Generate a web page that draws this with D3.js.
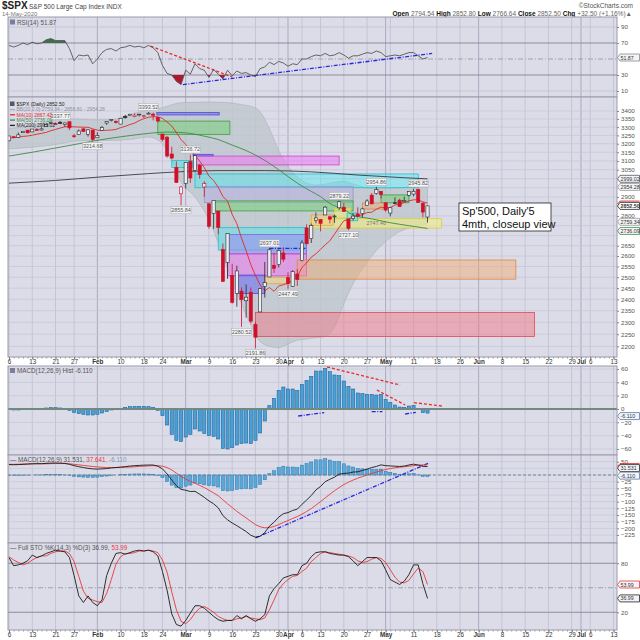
<!DOCTYPE html>
<html>
<head>
<meta charset="utf-8">
<script src="https://cdn.jsdelivr.net/npm/d3@7/dist/d3.min.js"></script>
<style>
  body { margin: 0; background: #fff; }
  svg { display: block; font-family: "Liberation Sans", Arial, sans-serif; }
</style>
</head>
<body>
<svg id="chart" width="640" height="640"></svg>
<script>
// $SPX daily, 6 Jan - 14 May 2020. index 0 = 6 Jan, one step per trading day
var openP = [3217.55,3241.86,3238.59,3266.03,3281.81,3271.13,3285.35,3282.27,3302.97,3323.66,
  3321.03,3330.02,3315.77,3333.10,3247.16,3255.35,3289.46,3256.45,3282.33,3235.66,
  3280.61,3324.91,3344.92,3335.54,3318.28,3365.87,3370.50,3365.90,3378.08,3369.04,
  3380.39,3380.45,3360.50,3257.61,3238.94,3139.90,3062.54,2916.90,2974.28,3096.46,
  3045.75,3075.70,2954.20,2863.89,2813.48,2825.60,2630.86,2569.99,2508.59,2425.66,
  2436.50,2393.48,2431.94,2290.71,2344.44,2457.77,2501.29,2555.87,2558.98,2614.69,
  2498.08,2458.54,2514.92,2578.28,2738.65,2685.00,2776.99,2782.46,2805.10,2795.64,
  2799.34,2842.43,2845.62,2784.81,2787.89,2810.42,2812.64,2854.65,2909.96,2918.46,
  2930.91,2869.09,2815.01,2868.88,2883.14,2878.26,2908.83,2915.46,2939.50,2865.86,2794.54];
var highP = [3246.84,3244.91,3267.07,3275.58,3282.99,3288.13,3294.25,3298.66,3317.11,3329.88,
  3329.79,3337.77,3326.88,3333.18,3258.85,3285.78,3293.47,3285.91,3282.33,3268.44,
  3306.92,3337.58,3347.96,3341.42,3352.26,3375.63,3381.47,3385.09,3380.69,3375.01,
  3393.52,3389.15,3360.76,3259.81,3246.99,3182.51,3097.07,2959.72,3090.96,3136.72,
  3130.97,3083.04,2985.93,2863.89,2882.59,2825.60,2660.95,2711.33,2562.98,2553.93,
  2453.57,2466.97,2453.01,2300.73,2449.71,2571.42,2637.01,2615.91,2631.80,2641.39,
  2522.75,2533.22,2538.18,2676.85,2756.89,2760.75,2818.57,2782.46,2851.85,2801.88,
  2806.51,2879.22,2868.98,2785.54,2815.10,2844.90,2842.71,2887.72,2921.15,2954.86,
  2930.91,2869.09,2844.24,2898.23,2891.11,2901.92,2932.16,2944.25,2945.82,2874.14,2852.80];
var lowP = [3214.64,3232.43,3236.67,3263.67,3260.86,3268.43,3277.19,3280.69,3302.82,3318.86,
  3316.61,3320.04,3301.87,3281.53,3234.50,3253.22,3271.89,3242.80,3214.68,3235.66,
  3280.61,3313.75,3334.39,3322.12,3317.77,3352.72,3369.72,3360.52,3366.15,3355.61,
  3378.83,3341.02,3328.45,3214.65,3118.77,3108.99,2977.39,2855.84,2945.19,2976.63,
  3034.38,2999.83,2901.54,2734.43,2734.00,2707.22,2478.86,2492.37,2380.94,2367.04,
  2280.52,2319.78,2295.56,2191.86,2344.44,2407.53,2500.72,2520.02,2545.28,2571.15,
  2447.49,2455.79,2459.96,2574.57,2657.67,2663.30,2762.36,2721.17,2805.10,2761.54,
  2764.32,2830.88,2820.43,2727.10,2775.95,2794.26,2791.76,2852.89,2860.71,2912.16,
  2892.47,2821.61,2797.85,2863.55,2847.65,2876.48,2902.88,2903.44,2869.59,2793.15,2766.64];
var closeP = [3246.28,3237.18,3253.05,3274.70,3265.35,3288.13,3283.15,3289.29,3316.81,3329.62,
  3320.79,3321.75,3325.54,3295.47,3243.63,3276.24,3273.40,3283.66,3225.52,3248.92,
  3297.59,3334.69,3345.78,3327.71,3352.09,3357.75,3379.45,3373.94,3380.16,3370.29,
  3386.15,3373.23,3337.75,3225.89,3128.21,3116.39,2978.76,2954.22,3090.23,3003.37,
  3130.12,3023.94,2972.37,2746.56,2882.23,2741.38,2480.64,2711.02,2386.13,2529.19,
  2398.10,2409.39,2304.92,2237.40,2447.33,2475.56,2630.07,2541.47,2626.65,2584.59,
  2470.50,2526.90,2488.65,2663.68,2659.41,2749.98,2789.82,2761.63,2846.06,2783.36,
  2799.55,2874.56,2823.16,2736.56,2799.31,2797.80,2836.74,2878.48,2863.39,2939.51,
  2912.43,2830.71,2842.74,2868.44,2848.42,2881.19,2929.80,2930.19,2870.12,2820.00,2852.50];
var prevClose = 3234.85;

var ma10 = [3234,3236,3239,3244,3246,3251,3257,3262,3268,3278.3,
  3285.8,3294.3,3301.6,3303.6,3301.5,3300.3,3299.3,3298.8,3289.7,3281.6,
  3279.3,3280.6,3282.6,3285.9,3296.7,3304.9,3315.5,3324.5,3339.9,3352.0,
  3360.8,3364.6,3363.8,3353.6,3331.2,3307.0,3267.0,3225.0,3196.0,3159.3,
  3133.7,3098.8,3062.2,3014.3,2989.7,2952.2,2902.4,2878.1,2807.7,2760.3,
  2687.1,2625.6,2558.9,2507.9,2464.4,2437.9,2452.8,2435.8,2459.9,2465.5,
  2472.8,2484.6,2503.0,2545.7,2566.9,2594.3,2610.3,2632.4,2654.3,2674.1,
  2707.0,2741.8,2775.2,2782.5,2796.5,2801.3,2806.0,2817.6,2819.3,2835.0,
  2846.2,2841.8,2843.8,2856.9,2861.8,2870.1,2879.4,2884.6,2885.3,2873.3,2867.42];
var ma50Days = [0,5,10,15,20,25,30,34,38,42,45,48,51,55,58,62,65,67,69,72,74,78,82,86,90];
var ma50Vals = [3128,3150,3175,3200,3225,3245,3262,3270,3265,3245,3225,3192,3160,3103,3050,2975,2930,2902,2865,2835,2805,2785,2765,2750,2736.09];
var ma200Days = [0,10,20,30,38,45,55,65,75,85,90];
var ma200Vals = [2975,2990,3010,3028,3040,3045,3045,3038,3020,3005,2999.02];
var bbDays = [0,5,10,14,18,22,26,30,33,35,37,40,43,46,48,50,52,54,56,58,60,62,64,66,68,70,72,74,76,78,80,82,84,87,90];
var bbUpper = [3290,3310,3345,3350,3345,3345,3380,3405,3420,3440,3452,3455,3457,3455,3450,3440,3430,3395,3290,3160,
  3070,3010,2975,2965,2970,2980,2985,2970,2955,2945,2945,2945,2950,2955,2954.28];
var bbLower = [3170,3180,3195,3215,3220,3220,3225,3240,3200,3100,2980,2900,2780,2600,2480,2380,2290,2220,2200,2195,
  2210,2225,2230,2235,2240,2280,2380,2470,2540,2600,2650,2690,2720,2745,2759.34];

var rsi = [67,65,67,70,68,71,69,70,74,75.5, 73,73,73,63,48,55,54,55,44,50,
  58,62,63,60,64,65,67,65,66,64, 67,64,58,42,32,30,22,18,36,31,
  44,38,36,27,37,31,25,36,29,35, 32,33,30,28,38,40,46,43,47,45,
  41,44,43,50,50,53,55,54,57,54, 55,58,55,51,54,54,56,58,57,60,
  58,53,54,55,54,56,58,58,54,50,51.87];
var macdHist = [-1,-1.5,-1.5,-1,-0.5,0,0.5,0.5,1.5,2, 2,1.5,0.5,-2,-5,-7,-8,-9,-9,-8,
  -6,-4,-1.5,0,1,2.5,3.5,4,4,4, 3.5,2.5,-2,-10,-24,-38,-47,-49,-42,-38,
  -30,-33,-37,-40,-41,-45,-59,-60,-58,-54, -52,-51,-52,-47,-36,-18,5,16,28,33,
  30,30,28,37,43,49,57,57,61,56, 51,50,42,34,30,24,23,22,22,21,
  22,14,10,6,3,2.5,4.5,5.5,0.5,-5.5,-6.11];
var macdSignal = [40,40,40.5,41,41.5,42,42,42,42,42.5, 43,43,43,42,40,38,36,34,32,30,
  29,28,28,28,28.5,29,30,31,32,33, 34,35,35,33,28,19,7,-5,-15,-24,
  -31,-39,-47,-57,-67,-78,-93,-108,-122,-136, -149,-161,-174,-186,-194,-198,-197,-193,-186,-178,
  -171,-163,-156,-147,-137,-126,-113,-100,-86,-72, -59,-47,-36,-27,-19,-12,-6,0,6,11,
  16,21,24,27,29,31,33,35,37,38,37.64];
var macdLine = [39,38.5,39,40,41,42,42.5,42.5,43.5,44.5, 45,44.5,43.5,40,35,31,28,25,23,22,
  23,24,26.5,28,29.5,31.5,33.5,35,36,37, 37.5,37.5,33,23,4,-19,-40,-54,-57,-62,
  -61,-72,-84,-97,-108,-123,-152,-168,-180,-190, -201,-212,-226,-233,-230,-216,-192,-177,-158,-145,
  -141,-133,-128,-110,-94,-77,-56,-43,-25,-16, -8,3,6,7,11,12,17,22,28,32,
  38,35,34,33,32,33.5,37.5,40.5,37.5,32.5,31.53];
var stoK = [87,77,78,80,83,90,87,89,92,94, 96,95,94,87,65,40,32,40,32,28,
  35,65,80,92,93,91,93,95,96,95, 96,94,89,70,47,18,5,3,10,19,
  28,28,25,20,15,11,9,10,10,16, 12,16,12,9,12,17,40,49,55,62,
  64,66,66,77,80,88,93,94,94,92, 91,90,90,88,83,77,82,87,87,87,
  83,72,60,57,54,58,66,78,78,55,36.99];
var stoD = [88,84,81,78,80,84,87,89,89,92, 94,95,95,92,82,64,46,37,35,33,
  32,43,60,79,88,92,92,93,95,95, 96,95,93,84,69,45,23,9,6,11,
  19,25,27,24,20,15,12,10,10,12, 13,15,13,12,11,13,23,35,48,55,
  60,64,65,70,74,82,87,92,94,93, 92,91,90,89,87,83,81,82,85,87,
  86,81,72,63,57,56,59,67,74,70,53.99];

// date axis
var axisDays = [0,5,10,14,19,24,29,33,38,43,48,53,58,60,63,67,72,77,81,87,92,97,101,106,111,116,121,123,125,130];
var axisLabels = ["6","13","21","27","Feb","10","18","24","Mar","9","16","23","30","Apr","6","13","20","27","May","11","18","26","Jun","8","15","22","29","Jul","6","13"];
var extraGridDays = [82];

// value axes
var rsiTicks = [90,70,30,10];
var priceTicks = [3400,3350,3300,3250,3200,3150,3100,3050,3000,2950,2900,2850,2800,2750,2700,2650,2600,2550,2500,2450,2400,2350,2300,2250,2200];
var priceTicksHidden = [3000,2950,2850,2750,2700];
var histTicks = [60,40,20,0,-20,-40,-60];
var macdTicks = [50,25,0,-25,-50,-75,-100,-125,-150,-175,-200,-225];
var macdTicksHidden = [25,0];
var stoTicks = [80,20];

// drawn zones on price panel
var zoneFrom = [31.8,32,39.6,40,35,40,42,44,45,47,47,49,55,62,53,64.7,80,76,70,72.7,65];
var zoneTo   = [45.2,47.5,43.9,71,39.4,88,74,74,64,64,64,55,60.4,109,113,93,86,81,73.5,75,69.7];
var zoneLow  = [3375,3256,3128,3077,3063,2950,2870,2826,2629,2610,2506,2426,2470,2491,2240,2738,2869,2836,2790,2775,2752];
var zoneHigh = [3390,3337,3138,3128,3102,3026,2956,2879,2740,2705,2610,2510,2500,2581,2342,2786,2911,2868,2840,2815,2805];
var zoneKind = ["blue","green","blue","magenta","cyan","cyan","lavender","green","cyan","violet","magenta","blue","khaki","orange","red","yellow","green","orange","yellow","cyan","khaki"];

// high / low price notes
var noteDays = [30,11,18,39,37,79,88,71,73,56,60,50,53];
var noteVals = [3393.52,3337.77,3214.68,3136.72,2855.84,2954.86,2945.82,2879.22,2727.10,2637.01,2447.49,2280.52,2191.86];

// trend lines: panel, day1, value1, day2, value2, colour kind
var trendPanel = ["rsi","rsi","hist","hist","hist","hist","hist","hist","macd","price"];
var trendD1 = [30.5,37.4,68.4,79.1,87.1,62.2,78,85.2,53,56];
var trendV1 = [66,18,63,28.5,9.5,-10.5,-4,-7.5,-236,2637];
var trendD2 = [48,91,84.1,85.2,93.1,67.8,80.3,87.5,90.3,64];
var trendV2 = [27.5,57,36,6,4.5,-5.5,-4,-5,45,2637];
var trendKind = ["red","blue","red","red","red","blue","blue","blue","blue","blue"];

// ---------------------------------------------------------------
var svg = d3.select("#chart");
var defs = svg.append("defs");
var L = 8, R = 617;
var BG = "#dcdce9";

var x = d3.scaleLinear().domain([0, 130]).range([9, 613.5]);
var yR = d3.scaleLinear().domain([2.5, 102.5]).range([97, 17]);
var yP = d3.scaleLog().domain([2157, 3489]).range([357, 97]);
var yH = d3.scaleLinear().domain([-69, 64.5]).range([455, 366]);
var yM = d3.scaleLinear().domain([-255, 75]).range([543, 455]);
var yS = d3.scaleLinear().domain([-1.7, 104.8]).range([630, 543]);

var monthDays = axisDays.filter(function (d, i) { return isNaN(+axisLabels[i]); });
var gridDays = axisDays.concat(extraGridDays);

var zoneStyle = {
  blue:     { fill: "#6a6af0", op: 0.55, stroke: "#4b4bd6" },
  green:    { fill: "#6fd06f", op: 0.5,  stroke: "#3aa03a" },
  magenta:  { fill: "#ee7af0", op: 0.55, stroke: "#d040d8" },
  cyan:     { fill: "#4ee6ee", op: 0.45, stroke: "#20c0d0" },
  lavender: { fill: "#b6aee6", op: 0.45, stroke: "#9a90d0" },
  violet:   { fill: "#9a8cf2", op: 0.55, stroke: "#7a6ae0" },
  khaki:    { fill: "#f2cf8a", op: 0.65, stroke: "#d8a850" },
  orange:   { fill: "#f2a86a", op: 0.45, stroke: "#e08840" },
  red:      { fill: "#f07a86", op: 0.5,  stroke: "#e04a5a" },
  yellow:   { fill: "#f4f07a", op: 0.55, stroke: "#d8d040" }
};
var trendStyle = {
  red:  { stroke: "#e62a2a", dash: "3,2" },
  blue: { stroke: "#2727e0", dash: "4,1.5,1,1.5" }
};

function makePanel(id, top, bottom) {
  svg.append("rect").attr("x", L).attr("y", top).attr("width", R - L).attr("height", bottom - top).attr("fill", BG);
  defs.append("clipPath").attr("id", id).append("rect")
    .attr("x", L).attr("y", top).attr("width", R - L).attr("height", bottom - top);
  var g = svg.append("g").attr("clip-path", "url(#" + id + ")");
  g.selectAll(".vg").data(gridDays).enter().append("line")
    .attr("x1", function (d) { return x(d); }).attr("x2", function (d) { return x(d); })
    .attr("y1", top).attr("y2", bottom)
    .attr("stroke", function (d) { return monthDays.indexOf(d) >= 0 ? "#a9a9be" : "#c4c4d6"; })
    .attr("stroke-width", 1);
  return g;
}

function hLines(g, y, vals, color, width, dash) {
  g.selectAll(null).data(vals).enter().append("line")
    .attr("x1", L).attr("x2", R)
    .attr("y1", function (d) { return y(d); }).attr("y2", function (d) { return y(d); })
    .attr("stroke", color).attr("stroke-width", width)
    .attr("stroke-dasharray", dash || null);
}

function frame(top, bottom) {
  svg.append("rect").attr("x", L).attr("y", top).attr("width", R - L).attr("height", bottom - top)
    .attr("fill", "none").attr("stroke", "#9a9aac").attr("stroke-width", 1);
}

function rightAxis(y, vals) {
  var ax = svg.append("g").attr("transform", "translate(" + R + ",0)")
    .call(d3.axisRight(y).tickValues(vals).tickSize(2).tickPadding(2).tickFormat(d3.format("d")));
  ax.select(".domain").remove();
  ax.attr("font-size", 6.2).attr("font-family", null);
  ax.selectAll("text").attr("fill", "#555");
  ax.selectAll("line").attr("stroke", "#888");
}

// value tag on the right axis
function valueBox(yv, label, color, fill, bold) {
  var g = svg.append("g");
  g.append("path").attr("d", "M" + (R + 0.5) + "," + yv + "l2.5,-3.5h19.5v7h-19.5z")
    .attr("fill", fill || "#f3f3f8").attr("stroke", color).attr("stroke-width", 0.8);
  g.append("text").attr("x", R + 3.5).attr("y", yv + 2).attr("font-size", 5.3)
    .attr("font-weight", bold ? "bold" : null).attr("fill", "#333").text(label);
}

function drawTrends(panelName, g, y) {
  var ids = d3.range(trendPanel.length).filter(function (k) { return trendPanel[k] === panelName; });
  g.selectAll(null).data(ids).enter().append("line")
    .attr("x1", function (k) { return x(trendD1[k]); }).attr("y1", function (k) { return y(trendV1[k]); })
    .attr("x2", function (k) { return x(trendD2[k]); }).attr("y2", function (k) { return y(trendV2[k]); })
    .attr("stroke", function (k) { return trendStyle[trendKind[k]].stroke; })
    .attr("stroke-dasharray", function (k) { return trendStyle[trendKind[k]].dash; })
    .attr("stroke-width", 1.3);
}

function dateAxis(y0) {
  svg.append("g").attr("transform", "translate(0," + y0 + ")")
    .call(d3.axisBottom(x).tickValues(d3.range(0, 131)).tickSize(1.5).tickFormat(""))
    .call(function (a) { a.select(".domain").remove(); a.selectAll("line").attr("stroke", "#999"); });
  var ax = svg.append("g").attr("transform", "translate(0," + y0 + ")")
    .call(d3.axisBottom(x).tickValues(axisDays).tickSize(2.5).tickPadding(0.5)
      .tickFormat(function (d, i) { return axisLabels[i]; }));
  ax.select(".domain").remove();
  ax.attr("font-size", 6.3).attr("font-family", null);
  ax.selectAll("text").attr("fill", "#333")
    .attr("font-weight", function (d, i) { return isNaN(+axisLabels[i]) ? "bold" : null; });
  ax.selectAll("line").attr("stroke", "#777");
}

var idx = d3.range(closeP.length);
function lineOf(y, arr) {
  return d3.line().x(function (d, i) { return x(i); }).y(function (d) { return y(d); })(arr);
}

// ---------------- header ----------------
svg.append("text").attr("x", 2).attr("y", 9).attr("font-size", 10).attr("font-weight", "bold").attr("fill", "#222").text("$SPX");
svg.append("text").attr("x", 29).attr("y", 8.5).attr("font-size", 6.5).attr("fill", "#444").text("S&P 500 Large Cap Index  INDX");
svg.append("text").attr("x", 2).attr("y", 15.5).attr("font-size", 6).attr("fill", "#777").text("14-May-2020");
svg.append("text").attr("x", 633).attr("y", 8).attr("text-anchor", "end").attr("font-size", 6.5).attr("fill", "#555").text("\u00A9StockCharts.com");
var hdr = svg.append("text").attr("x", 632).attr("y", 15.5).attr("text-anchor", "end").attr("font-size", 6.5).attr("fill", "#444");
[["Open", 1], [" 2794.54 ", 0], ["High", 1], [" 2852.80 ", 0], ["Low", 1], [" 2766.64 ", 0],
 ["Close", 1], [" 2852.50 ", 0], ["Chg", 1], [" +32.50 (+1.16%)\u25B2", 0]].forEach(function (p) {
  hdr.append("tspan").attr("font-weight", p[1] ? "bold" : null).attr("fill", p[1] ? "#111" : "#666").text(p[0]);
});

// ---------------- RSI ----------------
var gR = makePanel("cRsi", 17, 97);
hLines(gR, yR, [90, 10], "#c4c4d6", 1);
hLines(gR, yR, [70, 30], "#8c8c9e", 1.2);
hLines(gR, yR, [50], "#9090a0", 0.8, "5,2,1,2");
defs.append("clipPath").attr("id", "rsiHi").append("rect").attr("x", L).attr("y", 17).attr("width", R - L).attr("height", yR(70) - 17);
defs.append("clipPath").attr("id", "rsiLo").append("rect").attr("x", L).attr("y", yR(30)).attr("width", R - L).attr("height", 97 - yR(30));
gR.append("path").attr("clip-path", "url(#rsiHi)")
  .attr("d", d3.area().x(function (d, i) { return x(i); }).y0(yR(70)).y1(function (d) { return yR(d); })(rsi))
  .attr("fill", "#3f6e4d");
gR.append("path").attr("clip-path", "url(#rsiLo)")
  .attr("d", d3.area().x(function (d, i) { return x(i); }).y0(yR(30)).y1(function (d) { return yR(d); })(rsi))
  .attr("fill", "#b3172e");
drawTrends("rsi", gR, yR);
gR.append("path").attr("d", lineOf(yR, rsi)).attr("fill", "none").attr("stroke", "#555").attr("stroke-width", 0.9);
frame(17, 97);
rightAxis(yR, rsiTicks);
valueBox(yR(51.87), "51.87", "#888");
svg.append("rect").attr("x", 10).attr("y", 19.5).attr("width", 5).attr("height", 5).attr("fill", "#557").attr("opacity", 0.7);
svg.append("text").attr("x", 17).attr("y", 24.5).attr("font-size", 6.3).attr("fill", "#555").text("RSI(14) 51.87");

// ---------------- price ----------------
var gP = makePanel("cPrice", 97, 357);
hLines(gP, yP, priceTicks, "#c6c6d8", 0.8);
gP.append("path")
  .attr("d", d3.area().curve(d3.curveMonotoneX)
    .x(function (d) { return x(d); })
    .y0(function (d, k) { return yP(bbLower[k]); })
    .y1(function (d, k) { return yP(bbUpper[k]); })(bbDays))
  .attr("fill", "#bcc6c9").attr("fill-opacity", 0.75).attr("stroke", "#a8b2b6").attr("stroke-width", 0.6);

gP.selectAll(".zone").data(d3.range(zoneFrom.length)).enter().append("rect")
  .attr("x", function (k) { return x(zoneFrom[k]); })
  .attr("width", function (k) { return x(zoneTo[k]) - x(zoneFrom[k]); })
  .attr("y", function (k) { return yP(zoneHigh[k]); })
  .attr("height", function (k) { return yP(zoneLow[k]) - yP(zoneHigh[k]); })
  .attr("fill", function (k) { return zoneStyle[zoneKind[k]].fill; })
  .attr("fill-opacity", function (k) { return zoneStyle[zoneKind[k]].op; })
  .attr("stroke", function (k) { return zoneStyle[zoneKind[k]].stroke; })
  .attr("stroke-width", 0.8);
drawTrends("price", gP, yP);

var smooth = function (days, vals) {
  return d3.line().curve(d3.curveMonotoneX)
    .x(function (d) { return x(d); }).y(function (d, k) { return yP(vals[k]); })(days);
};
gP.append("path").attr("d", smooth(ma200Days, ma200Vals)).attr("fill", "none").attr("stroke", "#3a3a44").attr("stroke-width", 0.9);
gP.append("path").attr("d", smooth(ma50Days, ma50Vals)).attr("fill", "none").attr("stroke", "#3e8a46").attr("stroke-width", 0.9);
gP.append("path").attr("d", lineOf(yP, ma10)).attr("fill", "none").attr("stroke", "#e02828").attr("stroke-width", 0.9);

function prevOf(i) { return i === 0 ? prevClose : closeP[i - 1]; }
function candleColor(i) { return closeP[i] >= prevOf(i) ? "#2a2a2a" : "#d0102a"; }
gP.selectAll(".wick").data(idx).enter().append("line")
  .attr("x1", function (i) { return x(i); }).attr("x2", function (i) { return x(i); })
  .attr("y1", function (i) { return yP(highP[i]); }).attr("y2", function (i) { return yP(lowP[i]); })
  .attr("stroke", candleColor).attr("stroke-width", 0.8);
gP.selectAll(".body").data(idx).enter().append("rect")
  .attr("x", function (i) { return x(i) - 1.6; }).attr("width", 3.2)
  .attr("y", function (i) { return yP(Math.max(openP[i], closeP[i])); })
  .attr("height", function (i) { return Math.max(0.8, Math.abs(yP(openP[i]) - yP(closeP[i]))); })
  .attr("fill", function (i) { return closeP[i] > openP[i] ? "#eceef4" : candleColor(i); })
  .attr("stroke", candleColor).attr("stroke-width", 0.6);

// a note sits just above a high, or just below a low
function noteTop(k) {
  var d = noteDays[k];
  return noteVals[k] === highP[d] ? yP(highP[d]) - 8.5 : yP(lowP[d]) + 1.5;
}
var notes = gP.selectAll(".note").data(d3.range(noteDays.length)).enter().append("g");
notes.append("rect")
  .attr("x", function (k) { return x(noteDays[k]) - 10; })
  .attr("y", noteTop)
  .attr("width", 20).attr("height", 7)
  .attr("fill", "#f3f3f5").attr("stroke", "#aaa").attr("stroke-width", 0.5);
notes.append("text")
  .attr("x", function (k) { return x(noteDays[k]); })
  .attr("y", function (k) { return noteTop(k) + 5.4; })
  .attr("text-anchor", "middle").attr("font-size", 5.4).attr("fill", "#555")
  .text(function (k) { return noteVals[k].toFixed(2); });
gP.append("text").attr("x", x(79)).attr("y", yP(2762) + 2).attr("text-anchor", "middle")
  .attr("font-size", 5.4).attr("fill", "#777").text("2747.46");

// note box
gP.append("rect").attr("x", 459).attr("y", 203).attr("width", 92).attr("height", 28)
  .attr("fill", "#fff").attr("stroke", "#222").attr("stroke-width", 0.8);
gP.append("text").attr("x", 462).attr("y", 215).attr("font-size", 11).attr("fill", "#111").text("Sp'500, Daily'5");
gP.append("text").attr("x", 462).attr("y", 227.5).attr("font-size", 11).attr("fill", "#111").text("4mth, closeup view");

frame(97, 357);
rightAxis(yP, priceTicks.filter(function (v) { return priceTicksHidden.indexOf(v) < 0; }));
valueBox(yP(2999.02), "2999.02", "#556");
valueBox(yP(2954.28), "2954.28", "#999");
// MA(10) tag sits behind the close tag: only its red edge shows
svg.append("path").attr("d", "M" + (R + 0.5) + "," + (yP(2867.42) + 1) + "l2.5,-3h19.5")
  .attr("fill", "none").attr("stroke", "#e02828").attr("stroke-width", 0.9);
valueBox(yP(2852.50), "2852.50", "#222", "#fff", true);
valueBox(yP(2759.34) - 2, "2759.34", "#999");
valueBox(yP(2736.09) + 2.5, "2736.09", "#3e8a46");

// legend
var leg = [["$SPX (Daily) 2852.50", "#222", null], ["BB(20,2.0) 2759.34 - 2856.81 - 2954.28", "#8a9296", "#a8b2b6"],
  ["MA(10) 2867.42", "#e02828", "#e02828"], ["MA(50) 2736.09", "#3e8a46", "#3e8a46"], ["MA(200) 2999.02", "#222", "#222"]];
leg.forEach(function (l, k) {
  var yy = 106 + k * 5.3;
  if (l[2]) svg.append("line").attr("x1", 10).attr("x2", 15).attr("y1", yy - 1.8).attr("y2", yy - 1.8).attr("stroke", l[2]).attr("stroke-width", 1.3);
  else svg.append("rect").attr("x", 10).attr("y", yy - 4.5).attr("width", 4.5).attr("height", 4.5).attr("fill", "#556");
  svg.append("text").attr("x", 16.5).attr("y", yy).attr("font-size", 5).attr("fill", l[1]).text(l[0]);
});

dateAxis(357);

// ---------------- MACD histogram ----------------
var gH = makePanel("cHist", 366, 455);
hLines(gH, yH, histTicks, "#c6c6d8", 0.8);
gH.selectAll(".hb").data(idx).enter().append("rect")
  .attr("x", function (i) { return x(i) - 1.6; }).attr("width", 3.2)
  .attr("y", function (i) { return Math.min(yH(0), yH(macdHist[i])); })
  .attr("height", function (i) { return Math.abs(yH(macdHist[i]) - yH(0)); })
  .attr("fill", "#4a9fd5").attr("stroke", "#1d6aa0").attr("stroke-width", 0.6);
hLines(gH, yH, [0], "#708a82", 2);
drawTrends("hist", gH, yH);
frame(366, 455);
rightAxis(yH, histTicks);
valueBox(yH(-6.11) + 3, "-6.110", "#5a7ab0");
svg.append("rect").attr("x", 10).attr("y", 368).attr("width", 5).attr("height", 5).attr("fill", "#557").attr("opacity", 0.7);
svg.append("text").attr("x", 17).attr("y", 373).attr("font-size", 6.3).attr("fill", "#555").text("MACD(12,26,9) Hist -6.110");

// ---------------- MACD ----------------
var gM = makePanel("cMacd", 455, 543);
hLines(gM, yM, macdTicks, "#c6c6d8", 0.8);
gM.selectAll(".mb").data(idx).enter().append("rect")
  .attr("x", function (i) { return x(i) - 1.6; }).attr("width", 3.2)
  .attr("y", function (i) { return Math.min(yM(0), yM(macdHist[i])); })
  .attr("height", function (i) { return Math.abs(yM(macdHist[i]) - yM(0)); })
  .attr("fill", "#5aa8da").attr("stroke", "#2a78ad").attr("stroke-width", 0.5);
hLines(gM, yM, [0], "#6f88a0", 1, "3,2");
drawTrends("macd", gM, yM);
gM.append("path").attr("d", lineOf(yM, macdSignal)).attr("fill", "none").attr("stroke", "#e83838").attr("stroke-width", 0.9);
gM.append("path").attr("d", lineOf(yM, macdLine)).attr("fill", "none").attr("stroke", "#1a1a1a").attr("stroke-width", 0.9);
frame(455, 543);
rightAxis(yM, macdTicks.filter(function (v) { return macdTicksHidden.indexOf(v) < 0; }));
svg.append("path").attr("d", "M" + (R + 0.5) + "," + (yM(37.641) + 1.5) + "l2.5,-3h19.5")
  .attr("fill", "none").attr("stroke", "#e83838").attr("stroke-width", 0.9);
valueBox(yM(31.531) + 1.5, "31.531", "#222");
valueBox(yM(-6.11) - 1, "-6.110", "#5a7ab0");
var ml = svg.append("text").attr("x", 10).attr("y", 461.5).attr("font-size", 6.3).attr("fill", "#555");
ml.append("tspan").text("\u2014 MACD(12,26,9) 31.531, ");
ml.append("tspan").attr("fill", "#e83838").text("37.641");
ml.append("tspan").attr("fill", "#7a9ab8").text(", -6.110");

// ---------------- Full STO ----------------
var gS = makePanel("cSto", 543, 630);
hLines(gS, yS, [80, 20], "#8c8c9e", 1.2);
hLines(gS, yS, [50], "#9090a0", 0.8, "5,2,1,2");
gS.append("path").attr("d", lineOf(yS, stoD)).attr("fill", "none").attr("stroke", "#e83838").attr("stroke-width", 0.9);
gS.append("path").attr("d", lineOf(yS, stoK)).attr("fill", "none").attr("stroke", "#1a1a1a").attr("stroke-width", 0.9);
frame(543, 630);
rightAxis(yS, stoTicks);
valueBox(yS(53.99), "53.99", "#e83838");
valueBox(yS(36.99), "36.99", "#222");
var sl = svg.append("text").attr("x", 10).attr("y", 549.5).attr("font-size", 6.3).attr("fill", "#555");
sl.append("tspan").text("\u2014 Full STO %K(14,3) %D(3) 36.99, ");
sl.append("tspan").attr("fill", "#e83838").text("53.99");

dateAxis(630);
</script>
</body>
</html>
